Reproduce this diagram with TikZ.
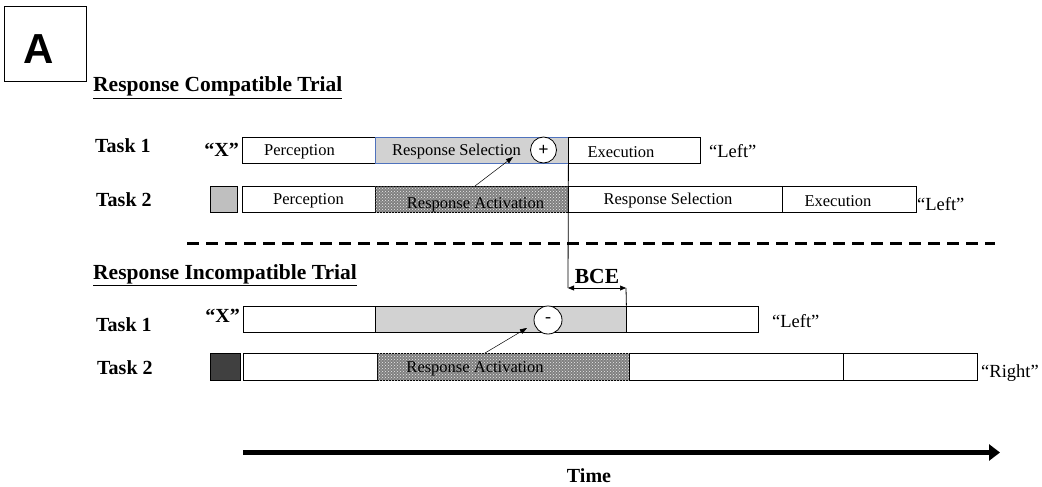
\documentclass[tikz,border=0pt]{standalone}
\usepackage{fontspec}
\setmainfont{Liberation Serif}
\newfontfamily\arialfont{Liberation Sans}
\usetikzlibrary{arrows.meta,patterns}
\definecolor{selblue}{RGB}{79,114,189}
\newcommand{\boxfont}{\fontsize{16.5}{18}\selectfont}
\newcommand{\taskfont}{\bfseries\fontsize{20}{22}\selectfont}
\newcommand{\headfont}{\bfseries\fontsize{21.5}{24}\selectfont}
\newcommand{\saidfont}{\fontsize{18.5}{20}\selectfont}
\tikzstyle{seg}=[draw, line width=0.8pt, minimum height=26pt, inner sep=0pt]
\tikzstyle{segsel}=[seg, draw=selblue, fill=gray!35]
\tikzstyle{seggray}=[seg, fill=gray!35]
\tikzstyle{segact}=[seg, fill=black!50, postaction={pattern=crosshatch dots, pattern color=white!85!gray}]
\tikzstyle{stim}=[draw, line width=0.8pt, minimum height=26pt, inner sep=0pt]
\tikzstyle{sign}=[circle, draw, fill=white, line width=0.8pt, inner sep=0pt]
\tikzstyle{arrow}=[draw=black, line width=0.5pt]
\tikzstyle{tag}=[inner sep=0pt]

\begin{document}
\begin{tikzpicture}[x=1pt, y=1pt, every label/.style={font=\boxfont, inner sep=0pt, yshift=-2pt}]
  \useasboundingbox (0,-487) rectangle (1042,0);
  \begin{scope}
    % panel and headings
    \node (panel) at (45,-43.5)[draw, line width=0.8pt, minimum width=82pt, minimum height=75pt,
      label={[xshift=-6pt, yshift=-4pt, font=\arialfont\bfseries\fontsize{42}{44}\selectfont]center:A}] {};
    \node (compat) at (93,-92)[tag, anchor=base west, font=\headfont] {\underline{Response Compatible Trial}};
    \node (incompat) at (93,-279)[tag, anchor=base west, font=\headfont] {\underline{Response Incompatible Trial}};
  \end{scope}
  \begin{scope}
    % compatible trial
    \node (ct1) at (95,-152)[tag, anchor=base west, font=\taskfont] {Task 1};
    \node (ct2) at (96,-206)[tag, anchor=base west, font=\taskfont] {Task 2};
    \node (cx) at (239,-156)[tag, anchor=base east, font=\taskfont] {``X''};
    \node (csq) at (223.5,-199)[stim, fill=gray!50, minimum width=27pt] {};
    \node (c1p) at (308.5,-150)[seg, minimum width=133pt, label={[xshift=-9pt]center:Perception}] {};
    \node (c1s) at (471.5,-150)[segsel, minimum width=193pt, label={[xshift=-15pt]center:Response Selection}] {};
    \node (c1e) at (634,-150)[seg, minimum width=132pt, label={[xshift=-13pt]center:Execution}] {};
    \node (c2p) at (308.5,-199)[seg, minimum width=133pt, label={center:Perception}] {};
    \node (c2a) at (471.5,-199)[segact, minimum width=193pt, label={[xshift=4pt, yshift=-4pt]center:Response Activation}] {};
    \node (c2s) at (675,-199)[seg, minimum width=214pt, label={[xshift=-7pt]center:Response Selection}] {};
    \node (c2e) at (849,-199)[seg, minimum width=134pt, label={[xshift=-11pt]center:Execution}] {};
    \node (cl1) at (709,-157)[tag, anchor=base west, font=\saidfont] {``Left''};
    \node (cl2) at (917,-210)[tag, anchor=base west, font=\saidfont] {``Left''};
    \node (plus) at (543.5,-150)[sign, minimum size=26pt, font=\bfseries\fontsize{18}{18}\selectfont] {+};
  \end{scope}
  \begin{scope}
    % incompatible trial
    \node (it1) at (96,-331)[tag, anchor=base west, font=\taskfont] {Task 1};
    \node (it2) at (97,-374)[tag, anchor=base west, font=\taskfont] {Task 2};
    \node (ix) at (240,-322)[tag, anchor=base east, font=\taskfont] {``X''};
    \node (isq) at (225.5,-366.5)[stim, fill=black!75, minimum width=30pt, minimum height=27pt] {};
    \node (i1p) at (309,-319)[seg, minimum width=132pt] {};
    \node (i1s) at (500.5,-319)[seggray, minimum width=251pt] {};
    \node (i1e) at (692,-319)[seg, minimum width=132pt] {};
    \node (i2p) at (310,-366.5)[seg, minimum width=134pt, minimum height=27pt] {};
    \node (i2a) at (503,-366.5)[segact, minimum width=252pt, minimum height=27pt, label={[xshift=-28pt]center:Response Activation}] {};
    \node (i2s) at (736,-366.5)[seg, minimum width=214pt, minimum height=27pt] {};
    \node (i2e) at (910,-366.5)[seg, minimum width=134pt, minimum height=27pt] {};
    \node (il1) at (772,-327)[tag, anchor=base west, font=\saidfont] {``Left''};
    \node (il2) at (981,-377)[tag, anchor=base west, font=\saidfont] {``Right''};
    \node (minus) at (548,-320)[sign, minimum size=28pt, font=\fontsize{18}{18}\selectfont] {-};
    \node (bce) at (597,-283)[tag, anchor=base, font=\headfont] {BCE};
    \node (time) at (589,-482)[tag, anchor=base, font=\taskfont] {Time};
  \end{scope}
  \begin{scope}
    \coordinate (actA) at (475,-186);
    \coordinate (selA) at (513,-157);
    \coordinate (actB) at (485,-353);
    \coordinate (selB) at (527,-328);
    \coordinate (bceL) at (568,-288);
    \coordinate (bceR) at (626,-288);
    \coordinate (dashL) at (187,-243);
    \coordinate (dashR) at (995,-243);
    \coordinate (t0) at (243,-452.5);
    \coordinate (t1) at (1000,-452.5);
    \draw [arrow, -{Triangle[length=7pt,width=5pt]}] (actA) -- (selA);
    \draw [arrow, -{Triangle[length=7pt,width=5pt]}] (actB) -- (selB);
    \draw [line width=0.8pt] (c1s.south east) -- (bceL);
    \draw [line width=0.8pt] (bceR) -- (i1s.north east);
    \draw [arrow, {Triangle[length=6pt,width=5pt]}-{Triangle[length=6pt,width=5pt]}] (bceL) -- (bceR);
    \draw [line width=3pt, dash pattern=on 12pt off 7pt] (dashL) -- (dashR);
    \draw [line width=5pt, -{Triangle[length=11pt,width=16pt]}] (t0) -- (t1);
  \end{scope}
\end{tikzpicture}
\end{document}
